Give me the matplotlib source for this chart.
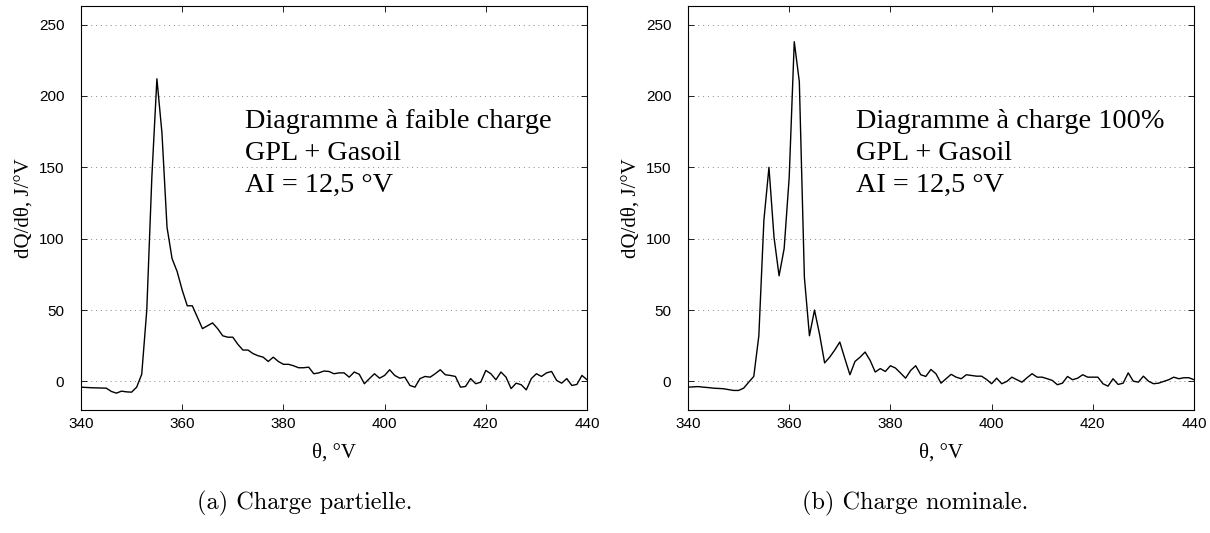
import numpy as np
import matplotlib
matplotlib.use("Agg")
import matplotlib.pyplot as plt

theta = list(range(340, 441))

dq_partial = [
    -4, -4.2, -4.4, -4.5, -4.6, -4.7, -7, -8.2, -6.8, -7.3,
    -7.5, -4, 5, 50, 143, 212, 174, 108, 86, 77,
    64, 53, 53, 45, 37, 39, 41, 37, 32, 31,
    31, 26, 22, 22, 19.5, 18, 17, 14, 17, 14,
    12, 12, 11, 9.6, 9.6, 10, 5.4, 6, 7.3, 7,
    5.4, 6, 6, 3, 6.6, 5, -1.6, 2, 5.4, 2.3,
    4.2, 8.2, 4.2, 2.3, 3, -2.8, -4, 2, 3.5, 3,
    5.4, 8.2, 4.7, 4.2, 3.5, -4, -3.5, 2, -1.6, -0.5,
    7.7, 5.4, 1.2, 6.6, 3, -5, -1.2, -2.3, -5.9, 2,
    5.4, 3.5, 6, 7, 0.7, -1.2, 2, -2.8, -2.1, 4.2,
    1.2,
]

dq_nominal = [
    -4, -3.8, -3.6, -4, -4.3, -4.7, -4.9, -5.1, -5.7, -6.3,
    -6.3, -4.7, -0.5, 3.5, 32, 113, 150, 101, 74, 93,
    143, 238, 210, 73, 32, 50, 33, 13, 17, 22,
    27.6, 16, 4.7, 14, 17, 20.6, 14.7, 6.6, 9, 7,
    11, 9.4, 5.9, 2.3, 7.7, 11, 4.7, 3.5, 8.4, 5.4,
    -1.2, 1.9, 5, 3, 1.9, 4.7, 4.2, 3.7, 3.7, 1.4,
    -1.6, 2.3, -1.6, 0, 3, 1.2, -0.5, 2.6, 5.4, 3,
    3, 1.9, 0.7, -2.3, -1.2, 3.5, 1.2, 2.3, 4.7, 3,
    3, 3, -1.6, -3.3, 1.9, -2.1, -1.2, 6, 0.2, -0.5,
    3.7, 0.2, -1.6, -1.2, 0, 1.2, 3, 1.9, 2.6, 2.6,
    1.2,
]

xticks = [340, 360, 380, 400, 420, 440]
yticks = [0, 50, 100, 150, 200, 250]

annot_partial = "Diagramme à faible charge\nGPL + Gasoil\nAI = 12,5 °V"
annot_nominal = "Diagramme à charge 100%\nGPL + Gasoil\nAI = 12,5 °V"
caption_a = "(a) Charge partielle."
caption_b = "(b) Charge nominale."
xlabel = "θ, °V"
ylabel = "dQ/dθ, J/°V"

W, H = 1210, 533
fig = plt.figure(figsize=(W / 100, H / 100), dpi=100)

serif = ["Liberation Serif", "DejaVu Serif"]
sans = ["Liberation Sans", "DejaVu Sans"]


def make_axes(left_px, y_data, annot, text_px, caption, cap_px):
    top_px, bot_px = 6, 410
    width_px = 506
    ax = fig.add_axes([left_px / W, (H - bot_px) / H, width_px / W, (bot_px - top_px) / H])
    ax.plot(theta, y_data, color="black", lw=1.0)
    ax.set_xlim(340, 440)
    ax.set_ylim(-20, 263)
    ax.set_xticks(xticks)
    ax.set_yticks(yticks)
    ax.yaxis.grid(True, linestyle=(0, (1, 4)), color="#888888", lw=0.7)
    ax.tick_params(direction="in", top=True, right=True, length=4, width=0.6,
                   labelsize=11)
    ax.tick_params(axis="x", pad=5)
    ax.tick_params(axis="y", pad=12)
    for lab in ax.get_xticklabels() + ax.get_yticklabels():
        lab.set_family(sans)
    for s in ax.spines.values():
        s.set_linewidth(0.8)
    ax.set_xlabel(xlabel, family=serif, fontsize=15, labelpad=9)
    ax.set_ylabel(ylabel, family=serif, fontsize=15, labelpad=4)
    tx = (text_px[0] - left_px) / width_px
    ty = 1 - (text_px[1] - top_px) / (bot_px - top_px)
    ax.text(tx, ty, annot, transform=ax.transAxes, family=serif, fontsize=20.3,
            va="top", ha="left", linespacing=1.36)
    fig.text(cap_px / W, 1 - 503 / H, caption, family=["cmr10", "DejaVu Serif"],
             fontsize=17.5, ha="center", va="center")
    return ax


make_axes(81, dq_partial, annot_partial, (245, 109), caption_a, 305)
make_axes(688, dq_nominal, annot_nominal, (856, 109), caption_b, 915)

fig.savefig("out.png", dpi=100)
